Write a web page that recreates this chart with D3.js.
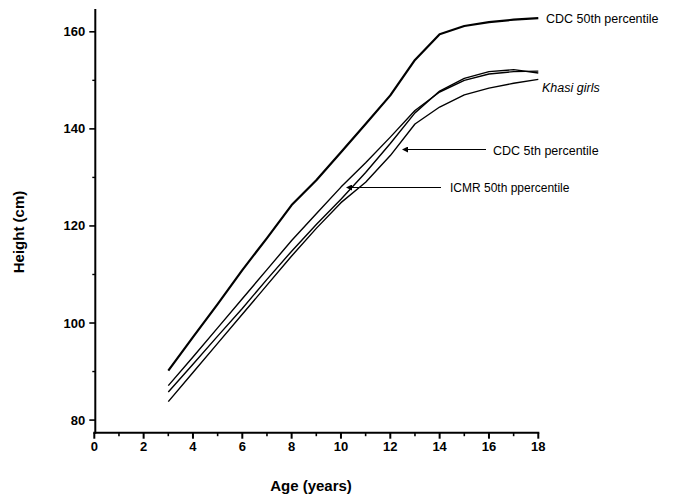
<!DOCTYPE html>
<html>
<head>
<meta charset="utf-8">
<script src="https://cdn.jsdelivr.net/npm/d3@7"></script>
<style>
  html, body { margin: 0; padding: 0; background: #fff; }
  svg { display: block; }
  text { font-family: "Liberation Sans", Arial, sans-serif; fill: #000; }
</style>
</head>
<body>
<svg id="chart" width="697" height="499"></svg>
<script>
// Age in years
const ages = [3, 4, 5, 6, 7, 8, 9, 10, 11, 12, 13, 14, 15, 16, 17, 18];

// Height (cm) for each reference curve
const cdc50 = [90.2, 97.1, 103.9, 110.9, 117.5, 124.3, 129.4, 135.2, 141.0, 146.9, 154.2, 159.5, 161.2, 162.0, 162.5, 162.8];
const icmr50 = [87.1, 93.0, 99.0, 105.0, 111.0, 117.0, 122.5, 128.0, 133.0, 138.3, 143.8, 147.6, 150.0, 151.3, 151.8, 151.9];
const cdc5 = [85.8, 91.5, 97.3, 103.0, 109.0, 114.8, 120.3, 125.5, 131.0, 137.0, 143.3, 147.8, 150.4, 151.8, 152.2, 151.5];
const khasi = [83.8, 89.8, 95.8, 101.8, 107.8, 113.8, 119.5, 124.8, 129.0, 134.5, 141.0, 144.5, 147.0, 148.4, 149.4, 150.2];

const xTicks = [0, 2, 4, 6, 8, 10, 12, 14, 16, 18];
const xMinor = [1, 3, 5, 7, 9, 11, 13, 15, 17];
const yTicks = [80, 100, 120, 140, 160];
const yMinor = [90, 110, 130, 150];

const svg = d3.select("#chart");

const x = d3.scaleLinear().domain([0, 18]).range([94.3, 538.3]);
const y = d3.scaleLinear().domain([77.4, 164.7]).range([432.7, 9]);

const axisColor = "#000";

// X axis
const gx = svg.append("g").attr("transform", `translate(0,${y(77.4)})`);
gx.append("line")
  .attr("x1", x(0) - 1).attr("x2", x(18) + 1)
  .attr("stroke", axisColor).attr("stroke-width", 2);
gx.selectAll(".xmaj").data(xTicks).join("line")
  .attr("x1", d => x(d)).attr("x2", d => x(d))
  .attr("y1", 0).attr("y2", 6)
  .attr("stroke", axisColor).attr("stroke-width", 2);
gx.selectAll(".xmin").data(xMinor).join("line")
  .attr("x1", d => x(d)).attr("x2", d => x(d))
  .attr("y1", 0).attr("y2", 3.5)
  .attr("stroke", axisColor).attr("stroke-width", 1.6);
gx.selectAll("text").data(xTicks).join("text")
  .attr("x", d => x(d)).attr("y", 18)
  .attr("text-anchor", "middle")
  .attr("font-size", 13).attr("font-weight", "bold")
  .text(d => d);

// Y axis
const gy = svg.append("g").attr("transform", `translate(${x(0) + 1},0)`);
gy.append("line")
  .attr("y1", y(164.7)).attr("y2", y(77.4) + 1)
  .attr("stroke", axisColor).attr("stroke-width", 2);
gy.selectAll(".ymaj").data(yTicks).join("line")
  .attr("x1", -6).attr("x2", 0)
  .attr("y1", d => y(d)).attr("y2", d => y(d))
  .attr("stroke", axisColor).attr("stroke-width", 1.6);
gy.selectAll(".ymin").data(yMinor).join("line")
  .attr("x1", -3).attr("x2", 0)
  .attr("y1", d => y(d)).attr("y2", d => y(d))
  .attr("stroke", axisColor).attr("stroke-width", 1.4);
gy.selectAll("text").data(yTicks).join("text")
  .attr("x", -10).attr("y", d => y(d) + 4.5)
  .attr("text-anchor", "end")
  .attr("font-size", 13).attr("font-weight", "bold")
  .text(d => d);

// Axis titles
svg.append("text")
  .attr("x", 311).attr("y", 491)
  .attr("text-anchor", "middle")
  .attr("font-size", 15).attr("font-weight", "bold")
  .text("Age (years)");
svg.append("text")
  .attr("transform", `translate(24,232) rotate(-90)`)
  .attr("text-anchor", "middle")
  .attr("font-size", 15).attr("font-weight", "bold")
  .text("Height (cm)");

// Growth curves
const line = d3.line()
  .x((d, i) => x(ages[i]))
  .y(d => y(d));

const series = [
  { values: cdc50, width: 2.2 },
  { values: icmr50, width: 1.4 },
  { values: cdc5, width: 1.4 },
  { values: khasi, width: 1.4 }
];
svg.selectAll(".curve").data(series).join("path")
  .attr("class", "curve")
  .attr("d", d => line(d.values))
  .attr("fill", "none")
  .attr("stroke", "#000")
  .attr("stroke-width", d => d.width)
  .attr("stroke-linejoin", "round");

// Labels and pointer arrows
svg.append("defs").append("marker")
  .attr("id", "arrowhead")
  .attr("viewBox", "0 0 10 10")
  .attr("refX", 0).attr("refY", 5)
  .attr("markerUnits", "userSpaceOnUse")
  .attr("markerWidth", 9).attr("markerHeight", 6)
  .attr("orient", "auto")
  .append("path").attr("d", "M10,5 L0,0 L0,10 Z").attr("fill", "#000");

svg.append("text")
  .attr("x", 546).attr("y", 23)
  .attr("font-size", 12.5)
  .text("CDC 50th percentile");

svg.append("text")
  .attr("x", 542).attr("y", 92)
  .attr("font-size", 12.5).attr("font-style", "italic")
  .text("Khasi girls");

svg.append("line")
  .attr("x1", 486).attr("x2", 408)
  .attr("y1", 149.5).attr("y2", 149.5)
  .attr("stroke", "#000").attr("stroke-width", 1.2)
  .attr("marker-end", "url(#arrowhead)");
svg.append("text")
  .attr("x", 493).attr("y", 155)
  .attr("font-size", 12.5)
  .text("CDC 5th percentile");

svg.append("line")
  .attr("x1", 441).attr("x2", 352)
  .attr("y1", 187.5).attr("y2", 187.5)
  .attr("stroke", "#000").attr("stroke-width", 1.2)
  .attr("marker-end", "url(#arrowhead)");
svg.append("text")
  .attr("x", 450).attr("y", 192)
  .attr("font-size", 12)
  .text("ICMR 50th ppercentile");
</script>
</body>
</html>
